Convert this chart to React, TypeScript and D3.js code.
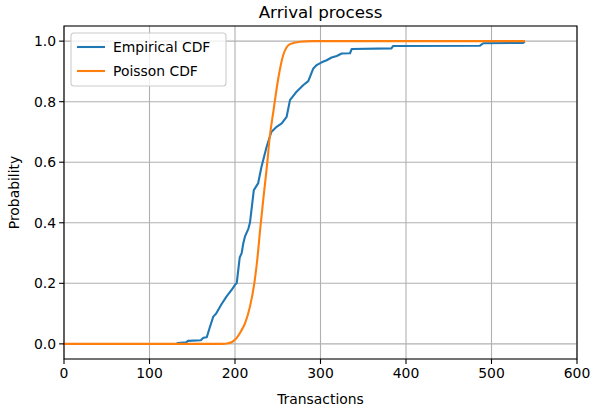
import React from 'react';
import * as d3 from 'd3';

// empirical CDF: [transactions, probability]
const empiricalX = [133, 143, 145, 160, 163, 167, 170, 174.6, 178, 184, 190, 196, 200, 202, 205.5, 207.8, 209.7, 211.7, 215.6, 217.5, 222, 227, 231, 237, 242.5, 248.7, 254.6, 260.4, 264.3, 272, 280, 285.7, 291.6, 295.5, 301.4, 307.2, 313, 319, 324.8, 334.5, 336.5, 383, 385, 486.5, 490.4, 537, 538];
const empiricalP = [0.003, 0.005, 0.01, 0.012, 0.02, 0.022, 0.05, 0.09, 0.1, 0.13, 0.156, 0.178, 0.195, 0.2, 0.285, 0.3, 0.332, 0.355, 0.38, 0.4, 0.508, 0.53, 0.585, 0.651, 0.7, 0.717, 0.728, 0.75, 0.805, 0.833, 0.855, 0.868, 0.91, 0.921, 0.93, 0.937, 0.946, 0.951, 0.959, 0.96, 0.974, 0.976, 0.984, 0.985, 0.993, 0.994, 0.996];

// poisson CDF
const poissonX = [0, 185, 192, 197, 202, 207, 211.7, 217.5, 222.6, 226, 229.5, 233, 237.8, 240.5, 245, 250.5, 256.5, 264.3, 276, 290, 538];
const poissonP = [0, 0, 0.002, 0.007, 0.02, 0.042, 0.068, 0.123, 0.2, 0.277, 0.38, 0.475, 0.6, 0.68, 0.77, 0.875, 0.955, 0.99, 0.998, 1, 1];

const xTicks = [0, 100, 200, 300, 400, 500, 600];
const yTicks = [0, 0.2, 0.4, 0.6, 0.8, 1.0];
const seriesNames = ['Empirical CDF', 'Poisson CDF'];
const colors = ['#1f77b4', '#ff7f0e'];

const W = 593;
const H = 410;
const m = { left: 64, right: 16, top: 26, bottom: 51 };
const font = 'DejaVu Sans, sans-serif';

export default function App() {
  const x = d3.scaleLinear().domain([0, 600]).range([m.left, W - m.right]);
  const y = d3.scaleLinear().domain([-0.05, 1.05]).range([H - m.bottom, m.top]);

  const line = d3.line<[number, number]>()
    .x(d => x(d[0]))
    .y(d => y(d[1]));
  const smooth = d3.line<[number, number]>()
    .x(d => x(d[0]))
    .y(d => y(d[1]))
    .curve(d3.curveMonotoneX);

  const empirical = empiricalX.map((v, i) => [v, empiricalP[i]] as [number, number]);
  const poisson = poissonX.map((v, i) => [v, poissonP[i]] as [number, number]);

  const [x0, x1] = x.range();
  const [y0, y1] = y.range();

  return (
    <svg width={W} height={H} style={{ position: 'absolute', left: 0, top: 0, background: '#fff' }} fontFamily={font}>
      {/* grid */}
      <g stroke="#b0b0b0" strokeWidth={1.1}>
        {xTicks.map(t => <line key={'gx' + t} x1={x(t)} x2={x(t)} y1={y1} y2={y0} />)}
        {yTicks.map(t => <line key={'gy' + t} x1={x0} x2={x1} y1={y(t)} y2={y(t)} />)}
      </g>

      {/* series */}
      <path d={line(empirical) ?? ''} fill="none" stroke={colors[0]} strokeWidth={2.1} strokeLinejoin="round" strokeLinecap="square" />
      <path d={smooth(poisson) ?? ''} fill="none" stroke={colors[1]} strokeWidth={2.1} strokeLinejoin="round" strokeLinecap="square" />

      {/* frame */}
      <rect x={x0} y={y1} width={x1 - x0} height={y0 - y1} fill="none" stroke="#000" strokeWidth={1.1} />

      {/* x axis */}
      <g fontSize={13.9} fill="#000" textAnchor="middle">
        {xTicks.map(t => (
          <g key={'xt' + t}>
            <line x1={x(t)} x2={x(t)} y1={y0} y2={y0 + 4.9} stroke="#000" strokeWidth={1.1} />
            <text x={x(t)} y={y0 + 19}>{t}</text>
          </g>
        ))}
      </g>
      <text x={(x0 + x1) / 2} y={H - 6} textAnchor="middle" fontSize={13.9}>Transactions</text>

      {/* y axis */}
      <g fontSize={13.9} fill="#000" textAnchor="end">
        {yTicks.map(t => (
          <g key={'yt' + t}>
            <line x1={x0 - 4.9} x2={x0} y1={y(t)} y2={y(t)} stroke="#000" strokeWidth={1.1} />
            <text x={x0 - 8} y={y(t) + 5}>{d3.format('.1f')(t)}</text>
          </g>
        ))}
      </g>
      <text transform={`translate(19, ${(y0 + y1) / 2}) rotate(-90)`} textAnchor="middle" fontSize={13.9}>Probability</text>

      {/* title */}
      <text x={(x0 + x1) / 2} y={18} textAnchor="middle" fontSize={16.7}>Arrival process</text>

      {/* legend */}
      <g transform={`translate(${x0 + 7}, ${y1 + 7})`}>
        <rect width={155} height={53} rx={3} fill="#fff" fillOpacity={0.8} stroke="#cccccc" strokeWidth={1.1} />
        {seriesNames.map((name, i) => (
          <g key={name} transform={`translate(0, ${14 + i * 24})`}>
            <line x1={6} x2={34} y1={0} y2={0} stroke={colors[i]} strokeWidth={2.1} />
            <text x={42} y={5} fontSize={13.9}>{name}</text>
          </g>
        ))}
      </g>
    </svg>
  );
}
